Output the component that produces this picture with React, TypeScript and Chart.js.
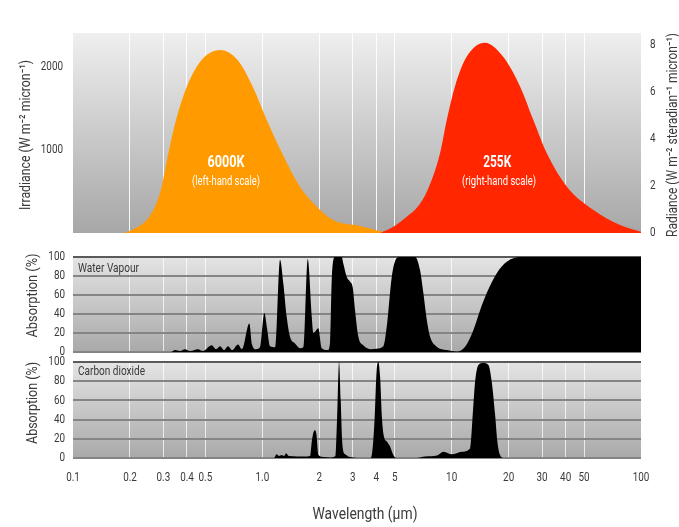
import React, { useEffect, useRef } from 'react';
import { Chart, registerables } from 'chart.js';

Chart.register(...registerables);

const W = 679;
const H = 527;
const FONT = "Roboto, 'DejaVu Sans', sans-serif";
const TEXT = '#3a3a3a';
const TICK_SX = 0.76;

// ---- axes ----
const xTickValues = [0.1, 0.2, 0.3, 0.4, 0.5, 1, 2, 3, 4, 5, 10, 20, 30, 40, 50, 100];
const xTickLabels = ['0.1', '0.2', '0.3', '0.4', '0.5', '1.0', '2', '3', '4', '5', '10', '20', '30', '40', '50', '100'];
const gridWavelengths = [0.2, 0.3, 0.4, 0.5, 1, 2, 3, 4, 5, 10, 20, 30, 40, 50];
const irradianceTicks = [1000, 2000];
const radianceTicks = [0, 2, 4, 6, 8];
const absorptionTicks = [0, 20, 40, 60, 80, 100];

// ---- 6000K sun (left-hand scale, W m-2 micron-1) ----
const sunWavelength = [0.1, 0.181, 0.213, 0.245, 0.271, 0.294, 0.319, 0.35, 0.399, 0.478, 0.6, 0.74, 0.89, 1.055, 1.27, 1.58, 1.94, 2.36, 3.28, 4.34, 5.3];
const sunIrradiance = [0, 0, 56, 156, 316, 556, 960, 1356, 1756, 2076, 2196, 2076, 1756, 1356, 960, 556, 316, 156, 84, 16, 0];

// ---- 255K earth (right-hand scale, W m-2 sr-1 micron-1) ----
const earthWavelength = [4.19, 4.9, 5.79, 6.6, 7.39, 8.68, 9.42, 10.4, 12.0, 15.0, 18.7, 23.0, 27.0, 31.8, 40.6, 56.1, 77.6, 100];
const earthRadiance = [0, 0.25, 0.69, 1.1, 1.75, 3.39, 4.8, 6.22, 7.49, 8.09, 7.49, 6.22, 4.8, 3.39, 1.97, 0.98, 0.34, 0.05];

// ---- water vapour absorption (%) ----
const h2oWavelength = [0.1, 0.33, 0.346, 0.367, 0.39, 0.415, 0.457, 0.486, 0.54, 0.569, 0.598, 0.628, 0.659, 0.692, 0.744, 0.781, 0.854, 0.882, 0.926, 0.972, 1.025, 1.059, 1.098, 1.167, 1.24, 1.291, 1.345, 1.401, 1.488, 1.582, 1.647, 1.737, 1.824, 1.86, 1.976, 2.06, 2.216, 2.279, 2.33, 2.421, 2.627, 2.679, 2.792, 2.906, 3.003, 3.088, 3.215, 3.416, 3.707, 4.021, 4.357, 4.542, 4.826, 5.129, 5.339, 6.409, 6.81, 7.088, 7.386, 7.691, 8.34, 9.42, 10.64, 11.77, 13.02, 14.13, 15.32, 17.31, 19.55, 22.98, 100];
const h2oAbsorption = [0, 0, 2, 1, 3, 1, 3, 1, 7, 3, 6, 2, 6, 2, 8, 3, 30, 8, 3, 5, 41, 25, 6, 5, 97, 72, 37, 16, 9, 4, 5, 98, 37, 20, 25, 4, 2, 10, 80, 100, 100, 93, 79, 74, 68, 44, 16, 7, 3, 3.5, 6, 27, 79, 99, 100, 100, 86, 62, 34, 16, 5.6, 2, 0.5, 5.6, 23, 44, 62, 83, 95, 100, 100];

// ---- carbon dioxide absorption (%) ----
const co2Wavelength = [0.1, 1.15, 1.191, 1.225, 1.266, 1.302, 1.334, 1.384, 1.681, 1.786, 1.824, 1.864, 1.898, 1.933, 1.976, 2.1, 2.279, 2.436, 2.481, 2.542, 2.595, 2.636, 2.685, 2.735, 2.906, 3.281, 3.707, 3.798, 3.915, 4.011, 4.1, 4.186, 4.289, 4.394, 4.558, 4.727, 4.92, 5.085, 6.54, 7.236, 8.37, 9.04, 10.01, 11.31, 12.51, 13.02, 13.29, 13.84, 14.71, 15.63, 16.29, 16.96, 17.44, 18.02, 18.76, 100];
const co2Absorption = [0, 0, 4, 2, 3, 2, 5, 2, 1.5, 2, 17, 27, 29, 24, 3, 1, 0.5, 2, 40, 100, 60, 20, 6, 4, 1, 0, 0, 5, 40, 90, 100, 85, 40, 22, 17, 12, 3, 0, 0, 1.5, 2.5, 6.6, 3.8, 6.6, 10, 55, 79, 97, 99, 97, 79, 45, 17, 3, 0, 0];

const pts = (xs: number[], ys: number[]) => xs.map((x, i) => ({ x, y: ys[i] }));

type TextOpts = { size: number; weight?: string; color?: string; align?: CanvasTextAlign; rotate?: number; sx?: number; width?: number };

function drawText(ctx: CanvasRenderingContext2D, text: string, x: number, y: number, o: TextOpts) {
  ctx.save();
  ctx.font = `${o.weight || 'normal'} ${o.size}px ${FONT}`;
  let sx = o.sx ?? 1;
  if (o.width) sx = o.width / ctx.measureText(text).width;
  ctx.translate(x, y);
  if (o.rotate) ctx.rotate(o.rotate);
  ctx.scale(sx, 1);
  ctx.textAlign = o.align || 'center';
  ctx.textBaseline = 'middle';
  ctx.fillStyle = o.color || TEXT;
  ctx.fillText(text, 0, 0);
  ctx.restore();
}

const bgPlugin = (top: string, bottom: string) => ({
  id: 'panelBg',
  beforeDraw(chart: any) {
    const { ctx, chartArea: a } = chart;
    const g = ctx.createLinearGradient(0, a.top, 0, a.bottom);
    g.addColorStop(0, top);
    g.addColorStop(1, bottom);
    ctx.save();
    ctx.fillStyle = g;
    ctx.fillRect(a.left, a.top, a.right - a.left, a.bottom - a.top);
    ctx.restore();
  },
});

type AxisText = { scaleId: string; side: 'left' | 'right' | 'bottom'; gap: number; labels?: string[] };
type Note = { text: string; opts: TextOpts; pos: (chart: any) => [number, number] };

const textPlugin = (axes: AxisText[], notes: Note[]) => ({
  id: 'texts',
  afterDraw(chart: any) {
    const ctx = chart.ctx;
    const a = chart.chartArea;
    axes.forEach((ax) => {
      const s = chart.scales[ax.scaleId];
      s.ticks.forEach((t: any, i: number) => {
        const label = ax.labels ? ax.labels[i] : String(t.value);
        const p = s.getPixelForValue(t.value);
        if (ax.side === 'left') drawText(ctx, label, a.left - ax.gap, p, { size: 13, align: 'right', sx: TICK_SX });
        else if (ax.side === 'right') drawText(ctx, label, a.right + ax.gap, p, { size: 13, align: 'left', sx: TICK_SX });
        else drawText(ctx, label, p, a.bottom + ax.gap, { size: 13, align: 'center', sx: TICK_SX });
      });
    });
    notes.forEach((n) => {
      const [x, y] = n.pos(chart);
      drawText(ctx, n.text, x, y, n.opts);
    });
  },
});

const xScale = (bottomHeight: number, gridColor: string) => ({
  type: 'logarithmic',
  min: 0.1,
  max: 100,
  afterBuildTicks: (s: any) => {
    s.ticks = xTickValues.map((v) => ({ value: v }));
  },
  ticks: { display: false },
  grid: {
    drawTicks: false,
    lineWidth: 1,
    color: (c: any) => (c.tick && gridWavelengths.includes(c.tick.value) ? gridColor : 'rgba(0,0,0,0)'),
  },
  border: { display: false },
  afterFit: (s: any) => {
    s.height = bottomHeight;
  },
});

const absorptionY = () => ({
  position: 'left',
  min: 0,
  max: 100,
  afterBuildTicks: (s: any) => {
    s.ticks = absorptionTicks.map((v) => ({ value: v }));
  },
  ticks: { display: false },
  grid: {
    drawTicks: false,
    lineWidth: 2,
    color: (c: any) => (c.tick && c.tick.value === 100 ? '#5a5a5a' : '#858585'),
  },
  border: { display: false },
  afterFit: (s: any) => {
    s.width = 73;
  },
});

function makeCharts(c1: HTMLCanvasElement, c2: HTMLCanvasElement, c3: HTMLCanvasElement) {
  const common = {
    animation: false,
    responsive: false,
    events: [],
    plugins: { legend: { display: false }, tooltip: { enabled: false } },
  };

  const top = new Chart(c1, {
    type: 'line',
    data: {
      datasets: [
        {
          label: '255K',
          data: pts(earthWavelength, earthRadiance),
          yAxisID: 'yR',
          backgroundColor: '#ff2600',
          borderWidth: 0,
          fill: 'origin',
          pointRadius: 0,
          cubicInterpolationMode: 'monotone',
          order: 0,
        },
        {
          label: '6000K',
          data: pts(sunWavelength, sunIrradiance),
          yAxisID: 'yL',
          backgroundColor: '#ff9a00',
          borderWidth: 0,
          fill: 'origin',
          pointRadius: 0,
          cubicInterpolationMode: 'monotone',
          order: 1,
        },
      ],
    },
    options: {
      ...common,
      layout: { padding: { left: 0, right: 0, top: 33, bottom: H - 233 } },
      scales: {
        x: xScale(0, 'rgba(255,255,255,0.9)'),
        yL: {
          position: 'left',
          min: 0,
          max: 2400,
          afterBuildTicks: (s: any) => {
            s.ticks = irradianceTicks.map((v) => ({ value: v }));
          },
          ticks: { display: false },
          grid: { display: false },
          border: { display: false },
          afterFit: (s: any) => {
            s.width = 73;
          },
        },
        yR: {
          position: 'right',
          min: 0,
          max: 8.5,
          afterBuildTicks: (s: any) => {
            s.ticks = radianceTicks.map((v) => ({ value: v }));
          },
          ticks: { display: false },
          grid: { display: false },
          border: { display: false },
          afterFit: (s: any) => {
            s.width = W - 641;
          },
        },
      },
    } as any,
    plugins: [
      bgPlugin('#efefef', '#a7a7a7'),
      textPlugin(
        [
          { scaleId: 'yL', side: 'left', gap: 10 },
          { scaleId: 'yR', side: 'right', gap: 9 },
        ],
        [
          { text: 'Irradiance (W m⁻² micron⁻¹)', opts: { size: 15, rotate: -Math.PI / 2, width: 150 }, pos: (c) => [26, (c.chartArea.top + c.chartArea.bottom) / 2 + 2] },
          { text: 'Radiance (W m⁻² steradian⁻¹ micron⁻¹)', opts: { size: 15, rotate: -Math.PI / 2, width: 204 }, pos: (c) => [c.chartArea.right + 32, (c.chartArea.top + c.chartArea.bottom) / 2 + 2] },
          { text: '6000K', opts: { size: 16, weight: 'bold', color: '#ffffff', width: 37 }, pos: (c) => [c.scales.x.getPixelForValue(0.643), c.scales.yL.getPixelForValue(840)] },
          { text: '(left-hand scale)', opts: { size: 12, color: '#ffffff', width: 68 }, pos: (c) => [c.scales.x.getPixelForValue(0.643), c.scales.yL.getPixelForValue(612)] },
          { text: '255K', opts: { size: 16, weight: 'bold', color: '#ffffff', width: 28 }, pos: (c) => [c.scales.x.getPixelForValue(17.4), c.scales.yR.getPixelForValue(2.98)] },
          { text: '(right-hand scale)', opts: { size: 12, color: '#ffffff', width: 74 }, pos: (c) => [c.scales.x.getPixelForValue(17.8), c.scales.yR.getPixelForValue(2.17)] },
        ]
      ),
    ],
  });

  const mid = new Chart(c2, {
    type: 'line',
    data: {
      datasets: [
        {
          label: 'Water Vapour',
          data: pts(h2oWavelength, h2oAbsorption),
          backgroundColor: '#000000',
          borderWidth: 0,
          fill: 'origin',
          pointRadius: 0,
          cubicInterpolationMode: 'monotone',
        },
      ],
    },
    options: {
      ...common,
      layout: { padding: { left: 0, right: W - 641, top: 257, bottom: H - 352 } },
      scales: { x: xScale(0, 'rgba(255,255,255,0.75)'), y: absorptionY() },
    } as any,
    plugins: [
      bgPlugin('#e4e4e4', '#a9a9a9'),
      textPlugin(
        [{ scaleId: 'y', side: 'left', gap: 8 }],
        [
          { text: 'Absorption (%)', opts: { size: 15, rotate: -Math.PI / 2, width: 84 }, pos: (c) => [33, (c.chartArea.top + c.chartArea.bottom) / 2 - 9] },
          { text: 'Water Vapour', opts: { size: 13, align: 'left', width: 61 }, pos: (c) => [c.chartArea.left + 5, c.chartArea.top + 12] },
        ]
      ),
    ],
  });

  const bot = new Chart(c3, {
    type: 'line',
    data: {
      datasets: [
        {
          label: 'Carbon dioxide',
          data: pts(co2Wavelength, co2Absorption),
          backgroundColor: '#000000',
          borderWidth: 0,
          fill: 'origin',
          pointRadius: 0,
          cubicInterpolationMode: 'monotone',
        },
      ],
    },
    options: {
      ...common,
      layout: { padding: { left: 0, right: W - 641, top: 362, bottom: 0 } },
      scales: { x: xScale(H - 458, 'rgba(255,255,255,0.75)'), y: absorptionY() },
    } as any,
    plugins: [
      bgPlugin('#e4e4e4', '#a9a9a9'),
      textPlugin(
        [
          { scaleId: 'y', side: 'left', gap: 8 },
          { scaleId: 'x', side: 'bottom', gap: 20, labels: xTickLabels },
        ],
        [
          { text: 'Absorption (%)', opts: { size: 15, rotate: -Math.PI / 2, width: 82 }, pos: (c) => [33, (c.chartArea.top + c.chartArea.bottom) / 2 - 7] },
          { text: 'Carbon dioxide', opts: { size: 13, align: 'left', width: 67 }, pos: (c) => [c.chartArea.left + 5, c.chartArea.top + 10] },
          { text: 'Wavelength (μm)', opts: { size: 17, width: 105 }, pos: (c) => [(c.chartArea.left + c.chartArea.right) / 2 + 8, 515] },
        ]
      ),
    ],
  });

  return [top, mid, bot];
}

export default function App() {
  const r1 = useRef<HTMLCanvasElement>(null);
  const r2 = useRef<HTMLCanvasElement>(null);
  const r3 = useRef<HTMLCanvasElement>(null);

  useEffect(() => {
    if (!r1.current || !r2.current || !r3.current) return;
    const charts = makeCharts(r1.current, r2.current, r3.current);
    return () => charts.forEach((c) => c.destroy());
  }, []);

  const cs: React.CSSProperties = { position: 'absolute', left: 0, top: 0, width: W, height: H };
  return (
    <div style={{ position: 'absolute', left: 0, top: 0, width: W, height: H, background: '#ffffff' }}>
      <canvas ref={r1} width={W} height={H} style={cs} />
      <canvas ref={r2} width={W} height={H} style={cs} />
      <canvas ref={r3} width={W} height={H} style={cs} />
    </div>
  );
}
